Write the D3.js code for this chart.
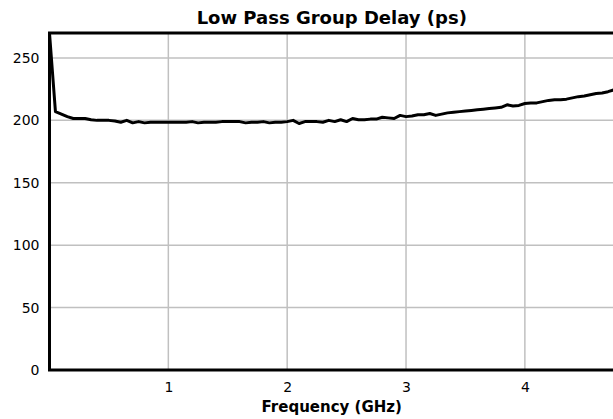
<!DOCTYPE html>
<html>
<head>
<meta charset="utf-8">
<script src="https://cdn.jsdelivr.net/npm/d3@7/dist/d3.min.js"></script>
<style>
  body { margin: 0; background: #fff; }
  text { font-family: "DejaVu Sans", sans-serif; }
</style>
</head>
<body>
<div id="theGraph"></div>
<script>
// frequency points (GHz), 0.05 step
var freqs = d3.range(0, 96).map(i => +(i * 0.05).toFixed(2));
// group delay in ps
var delay = [
    270, 207, 205, 203, 201.5, 201.5, 201.5, 200.5, 200, 200,
    200, 199.5, 198.5, 200, 198, 199, 198, 198.5, 198.5, 198.5,
    198.5, 198.5, 198.5, 198.5, 199, 198, 198.5, 198.5, 198.5, 199,
    199, 199, 199, 198, 198.5, 198.5, 199, 198, 198.5, 198.5,
    199, 200, 197.5, 199, 199, 199, 198.5, 200, 199, 200.5,
    199, 201.5, 200.5, 200.5, 201, 201, 202.5, 202, 201.5, 204,
    203, 203.5, 204.5, 204.5, 205.5, 204, 205, 206, 206.5, 207,
    207.5, 208, 208.5, 209, 209.5, 210, 210.5, 212.5, 211.5, 212,
    213.5, 214, 214, 215, 216, 216.5, 216.5, 217, 218, 219,
    219.5, 220.5, 221.5, 222, 223, 224.5
];
var xTicks = [1, 2, 3, 4];
var yTicks = [0, 50, 100, 150, 200, 250];

const width = 613, height = 419,
    margin = {left: 49.5, top: 33, right: -1, bottom: 49},
    contentWidth = width - margin.left - margin.right,
    contentHeight = height - margin.top - margin.bottom;

const svg = d3.select("#theGraph")
            .append("svg")
                .attr("width", width)
                .attr("height", height);

const xScale = d3.scaleLinear().domain([0, 4.75]).range([0, contentWidth]);
const yScale = d3.scaleLinear().domain([0, 270]).range([contentHeight, 0]);

const plot = svg.append("g")
    .attr("transform", `translate(${margin.left}, ${margin.top})`);

// grid
plot.append("g").selectAll("line.gx").data(xTicks).enter()
    .append("line")
        .attr("x1", d => xScale(d)).attr("x2", d => xScale(d))
        .attr("y1", 0).attr("y2", contentHeight)
        .style("stroke", "#c0c0c0").style("stroke-width", 1.5);
plot.append("g").selectAll("line.gy").data(yTicks).enter()
    .append("line")
        .attr("y1", d => yScale(d)).attr("y2", d => yScale(d))
        .attr("x1", 0).attr("x2", contentWidth)
        .style("stroke", "#c0c0c0").style("stroke-width", 1.5);

// axes, labels only
const xAxis = plot.append("g")
    .attr("transform", `translate(0, ${contentHeight})`)
    .call(d3.axisBottom(xScale).tickValues(xTicks).tickFormat(d3.format("d"))
        .tickSize(0).tickPadding(12));
const yAxis = plot.append("g")
    .call(d3.axisLeft(yScale).tickValues(yTicks).tickFormat(d3.format("d"))
        .tickSize(0).tickPadding(10));
[xAxis, yAxis].forEach(a => {
    a.select(".domain").remove();
    a.selectAll("text").style("font-size", "14px").style("fill", "#000")
        .style("font-family", "DejaVu Sans, sans-serif");
});

// data line
plot.append("path")
    .datum(freqs.map((f, i) => [f, delay[i]]))
    .attr("d", d3.line().x(d => xScale(d[0])).y(d => yScale(d[1])))
    .style("fill", "none")
    .style("stroke", "#000")
    .style("stroke-width", 3)
    .style("stroke-linejoin", "round");

// frame (right side falls just outside the picture)
plot.append("rect")
    .attr("x", 0).attr("y", 0)
    .attr("width", contentWidth + 4).attr("height", contentHeight)
    .style("fill", "none").style("stroke", "#000").style("stroke-width", 3);

svg.append("text")
    .attr("x", margin.left + contentWidth / 2)
    .attr("y", 24)
    .attr("text-anchor", "middle")
    .style("font-size", "18px").style("font-weight", "bold")
    .text("Low Pass Group Delay (ps)");

svg.append("text")
    .attr("x", margin.left + contentWidth / 2)
    .attr("y", 412)
    .attr("text-anchor", "middle")
    .style("font-size", "15px").style("font-weight", "bold")
    .text("Frequency (GHz)");
</script>
</body>
</html>
